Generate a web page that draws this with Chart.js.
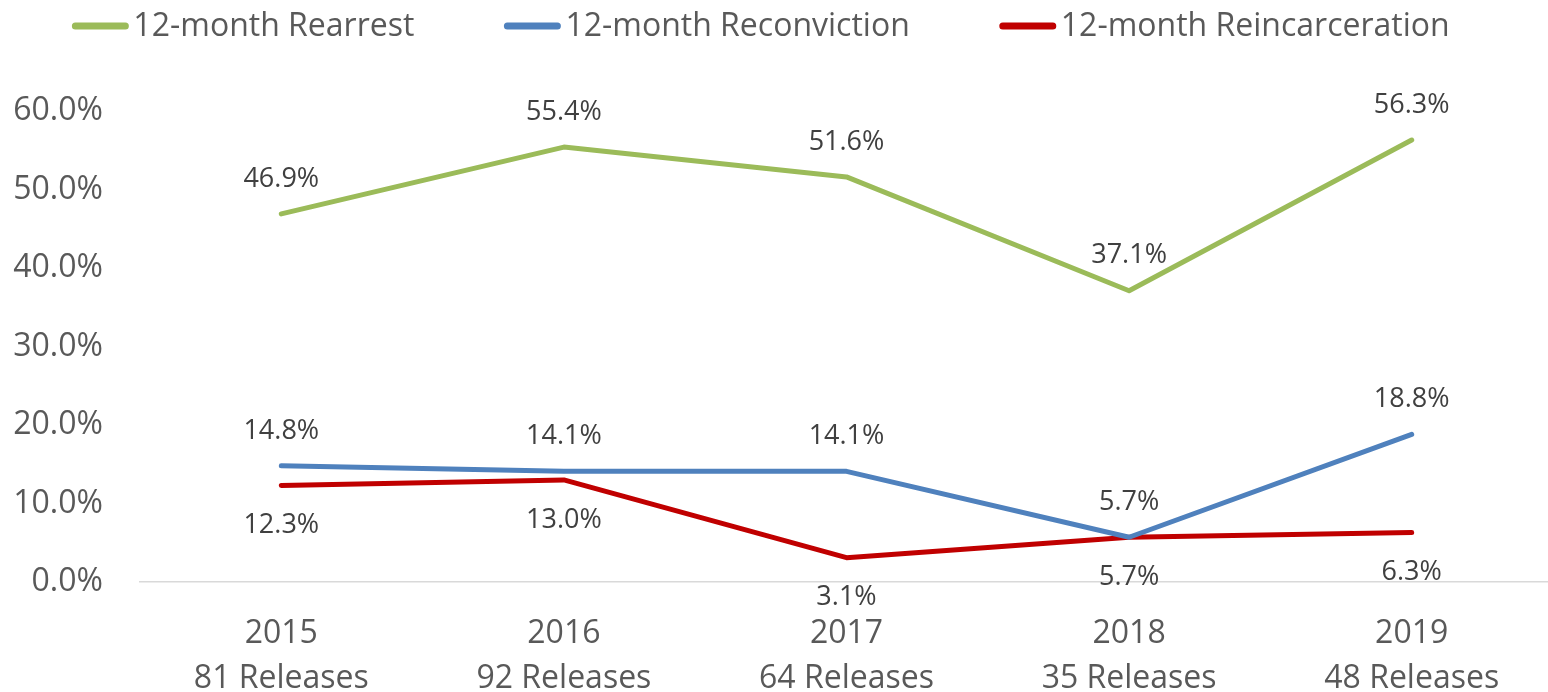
<!DOCTYPE html>
<html>
<head>
<meta charset="utf-8">
<script src="https://cdn.jsdelivr.net/npm/chart.js@4.4.1/dist/chart.umd.min.js"></script>
<style>
  html, body { margin: 0; padding: 0; background: #fff; overflow: hidden; }
  #wrap { width: 1553px; height: 692px; }
</style>
</head>
<body>
<div id="wrap"><canvas id="chart" width="1553" height="692"></canvas></div>
<script>
// Datos
const years = ['2015', '2016', '2017', '2018', '2019'];
const releases = ['81 Releases', '92 Releases', '64 Releases', '35 Releases', '48 Releases'];
const rearrest = [46.9, 55.4, 51.6, 37.1, 56.3];
const reconviction = [14.8, 14.1, 14.1, 5.7, 18.8];
const reincarceration = [12.3, 13.0, 3.1, 5.7, 6.3];
const yTicks = [0, 10, 20, 30, 40, 50, 60];

const FONT = "'Open Sans', 'Liberation Sans', sans-serif";
const TEXT = '#595959';

const labels = years.map((y, i) => [y, releases[i]]);

/**
 * Etiquetas de valor encima o debajo de cada punto.
 */
const valueLabels = {
  id: 'valueLabels',
  afterDatasetsDraw(chart) {
    const ctx = chart.ctx;
    ctx.save();
    ctx.font = '27px ' + FONT;
    ctx.fillStyle = '#404040';
    ctx.textAlign = 'center';
    ctx.textBaseline = 'middle';
    chart.data.datasets.forEach((ds, di) => {
      const meta = chart.getDatasetMeta(di);
      meta.data.forEach((pt, i) => {
        const dy = ds.labelPos === 'below' ? 40 : -35;
        ctx.fillText(ds.data[i].toFixed(1) + '%', pt.x, pt.y + dy);
      });
    });
    ctx.restore();
  }
};

/**
 * Leyenda dibujada a mano (línea + texto), centrada arriba.
 */
const lineLegend = {
  id: 'lineLegend',
  afterDraw(chart) {
    const ctx = chart.ctx;
    const lineLen = 56, gapText = 5, gapItem = 90, cy = 26, center = 761;
    ctx.save();
    ctx.font = '32px ' + FONT;
    ctx.textBaseline = 'middle';
    ctx.textAlign = 'left';
    const items = chart.data.datasets.map(ds => ({
      text: ds.label, color: ds.borderColor, w: ctx.measureText(ds.label).width
    }));
    const total = items.reduce((s, it) => s + lineLen + gapText + it.w, 0) + gapItem * (items.length - 1);
    let x = center - total / 2;
    items.forEach(it => {
      ctx.strokeStyle = it.color;
      ctx.lineWidth = 7;
      ctx.lineCap = 'round';
      ctx.beginPath();
      ctx.moveTo(x + 3, cy);
      ctx.lineTo(x + lineLen - 3, cy);
      ctx.stroke();
      ctx.fillStyle = TEXT;
      ctx.fillText(it.text, x + lineLen + gapText, cy + 1);
      x += lineLen + gapText + it.w + gapItem;
    });
    ctx.restore();
  }
};

function serie(label, data, color, labelPos) {
  return {
    label,
    data,
    borderColor: color,
    backgroundColor: color,
    borderWidth: 5,
    borderCapStyle: 'round',
    borderJoinStyle: 'round',
    pointRadius: 0,
    pointHoverRadius: 0,
    tension: 0,
    labelPos
  };
}

new Chart(document.getElementById('chart'), {
  type: 'line',
  data: {
    labels,
    datasets: [
      serie('12-month Rearrest', rearrest, '#9BBB59', 'above'),
      serie('12-month Reconviction', reconviction, '#4F81BD', 'above'),
      serie('12-month Reincarceration', reincarceration, '#C00000', 'below')
    ]
  },
  options: {
    responsive: false,
    animation: false,
    layout: { padding: { top: 111, left: 0, right: 0, bottom: 0 } },
    plugins: {
      tooltip: { enabled: false },
      legend: { display: false }
    },
    scales: {
      x: {
        offset: true,
        grid: { display: false, drawTicks: false },
        border: { display: true, color: '#D9D9D9', width: 1.5 },
        ticks: {
          color: TEXT,
          padding: 29,
          maxRotation: 0,
          autoSkip: false,
          font: { family: FONT, size: 32, lineHeight: 1.42 }
        },
        afterFit(scale) { scale.height = 110; }
      },
      y: {
        min: 0,
        max: 60,
        grid: { display: false, drawTicks: false },
        border: { display: false },
        afterBuildTicks(scale) {
          scale.ticks = yTicks.map(v => ({ value: v }));
        },
        ticks: {
          color: TEXT,
          padding: 37,
          font: { family: FONT, size: 32 },
          callback: v => v.toFixed(1) + '%'
        },
        afterFit(scale) { scale.width = 140; }
      }
    }
  },
  plugins: [valueLabels, lineLegend]
});
</script>
</body>
</html>
